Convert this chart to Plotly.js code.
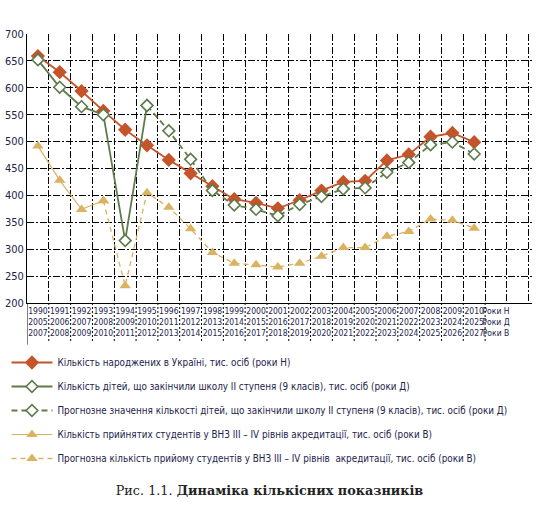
<!DOCTYPE html>
<html>
<head>
<meta charset="utf-8">
<script src="https://cdn.plot.ly/plotly-3.0.1.min.js"></script>
<style>
  html, body { margin: 0; padding: 0; background: #fff; }
  #chart { width: 539px; height: 511px; }
</style>
</head>
<body>
<div id="chart"></div>
<script>
// Tick label rows: birth years (Н), school-leaving years (Д), admission years (В)
const rowN = ['1990','1991','1992','1993','1994','1995','1996','1997','1998','1999','2000',
              '2001','2002','2003','2004','2005','2006','2007','2008','2009','2010','Роки Н'];
const rowD = ['2005','2006','2007','2008','2009','2010','2011','2012','2013','2014','2015',
              '2016','2017','2018','2019','2020','2021','2022','2023','2024','2025','Роки Д'];
const rowV = ['2007','2008','2009','2010','2011','2012','2013','2014','2015','2016','2017',
              '2018','2019','2020','2021','2022','2023','2024','2025','2026','2027','Роки В'];

// Births in Ukraine, thousand persons (1990–2010)
const births = [659, 629, 594, 557, 522, 493, 466, 441, 417, 393, 386,
                376, 391, 409, 425, 427, 465, 476, 509, 516, 499];

// Children finishing 9th grade: actual (first 6 periods) and forecast (from 6th period on)
const schoolActual   = [652, 601, 565, 550, 316, 567];
const schoolForecast = [567, 520, 467, 409, 382, 374, 362, 383, 398, 412, 414,
                        443, 461, 494, 499, 477];
const schoolForecastStart = 5;

// Students admitted to higher education: actual (first 4 periods) and forecast
const admittedActual   = [492, 428, 374, 390];
const admittedForecast = [390, 232, 405, 378, 338, 294, 274, 271, 267, 274, 287,
                          303, 303, 324, 333, 356, 354, 339];
const admittedForecastStart = 3;

const seriesNames = [
  'Кількість народжених в Україні, тис. осіб (роки Н)',
  'Кількість дітей, що закінчили школу ІІ ступеня (9 класів), тис. осіб (роки Д)',
  'Прогнозне значення кількості дітей, що закінчили школу ІІ ступеня (9 класів), тис. осіб (роки Д)',
  'Кількість прийнятих студентів у ВНЗ ІІІ – IV рівнів акредитації, тис. осіб (роки В)',
  'Прогнозна кількість прийому студентів у ВНЗ ІІІ – IV рівнів  акредитації, тис. осіб (роки В)'
];

const RED = '#c4552b', GREEN = '#5e7b4c', GOLD = '#dbb262';
const NAVY = '#23234a';
const NARROW = "'Liberation Sans Narrow', 'DejaVu Sans Condensed', sans-serif";

const idx = (arr, start) => arr.map((_, i) => i + (start || 0));

const traces = [
  { x: idx(births), y: births, name: seriesNames[0], legendgroup: 'g1',
    mode: 'lines+markers', line: { color: RED, width: 1.8 },
    marker: { symbol: 'diamond', size: 11, color: RED } },
  { x: idx(schoolActual), y: schoolActual, name: seriesNames[1], legendgroup: 'g2',
    mode: 'lines+markers', line: { color: GREEN, width: 1.8 },
    marker: { symbol: 'diamond', size: 9, color: '#fff', line: { color: GREEN, width: 1.6 } } },
  { x: idx(schoolForecast, schoolForecastStart), y: schoolForecast, name: seriesNames[2], legendgroup: 'g3',
    mode: 'lines+markers', line: { color: GREEN, width: 1.8, dash: '6px,4px' },
    marker: { symbol: 'diamond', size: 9, color: '#fff', line: { color: GREEN, width: 1.6 } } },
  { x: idx(admittedActual), y: admittedActual, name: seriesNames[3], legendgroup: 'g4',
    mode: 'lines+markers', line: { color: GOLD, width: 1.2 },
    marker: { symbol: 'triangle-up', size: 10, color: GOLD } },
  { x: idx(admittedForecast, admittedForecastStart), y: admittedForecast, name: seriesNames[4], legendgroup: 'g5',
    mode: 'lines+markers', line: { color: GOLD, width: 1.3, dash: '5px,4px' },
    marker: { symbol: 'triangle-up', size: 10, color: GOLD } }
];

// Column separators running down through the three label rows
const shapes = [{
  type: 'line', xref: 'x', yref: 'paper', x0: -0.5, x1: -0.5, y0: 0, y1: -0.155,
  line: { color: '#000', width: 1 }
}];
for (let i = 0; i < rowN.length - 1; i++) {
  shapes.push({
    type: 'line', xref: 'x', yref: 'paper', x0: i + 0.5, x1: i + 0.5, y0: 0, y1: -0.148,
    line: { color: '#000', width: 1, dash: '2px,2px' }
  });
}

const tickIdx = idx(rowN);
const tickText = rowN.map((n, i) => n + '<br>' + rowD[i] + '<br>' + rowV[i]);

const layout = {
  width: 539, height: 511,
  margin: { l: 27, r: 7, t: 34, b: 208, autoexpand: false },
  paper_bgcolor: '#fff', plot_bgcolor: '#fff',
  showlegend: true,
  title: {
    text: 'Рис. 1.1. <b>Динаміка кількісних показників</b>',
    font: { family: "'DejaVu Serif', 'Liberation Serif', serif", size: 12.8, color: '#222' },
    x: 0.5, xanchor: 'center', xref: 'container',
    y: 1 - 491 / 511, yanchor: 'middle', yref: 'container'
  },
  xaxis: {
    range: [-0.5, 22.65], tickmode: 'array', tickvals: tickIdx, ticktext: tickText,
    ticks: '', tickangle: 0,
    showgrid: false, zeroline: false, showline: true, linecolor: '#000', linewidth: 1,
    minor: { tick0: -0.5, dtick: 1, showgrid: true, gridcolor: '#000', gridwidth: 1,
             griddash: '7px,2px,2px,2px', ticks: '' },
    tickfont: { family: NARROW, size: 8.5, color: NAVY }
  },
  yaxis: {
    range: [200, 700], dtick: 50, tick0: 200, ticks: '',
    showgrid: true, gridcolor: '#000', gridwidth: 1, griddash: '7px,2px,2px,2px',
    zeroline: false, showline: true, linecolor: '#000', linewidth: 1,
    tickfont: { family: NARROW, size: 11, color: NAVY }
  },
  legend: {
    xref: 'container', yref: 'container', x: 0.012, y: 1 - 348 / 511,
    xanchor: 'left', yanchor: 'top', tracegroupgap: 5, itemwidth: 41,
    font: { family: NARROW, size: 9.8, color: NAVY },
    bgcolor: 'rgba(0,0,0,0)'
  },
  annotations: [{
    text: 'Тис. осіб', xref: 'container', yref: 'container', x: 0.006, y: 1 - 10 / 511,
    xanchor: 'left', yanchor: 'middle', showarrow: false,
    font: { family: NARROW, size: 11, color: NAVY }
  }],
  shapes: shapes
};

Plotly.newPlot('chart', traces, layout, { displayModeBar: false, staticPlot: true });
</script>
</body>
</html>
